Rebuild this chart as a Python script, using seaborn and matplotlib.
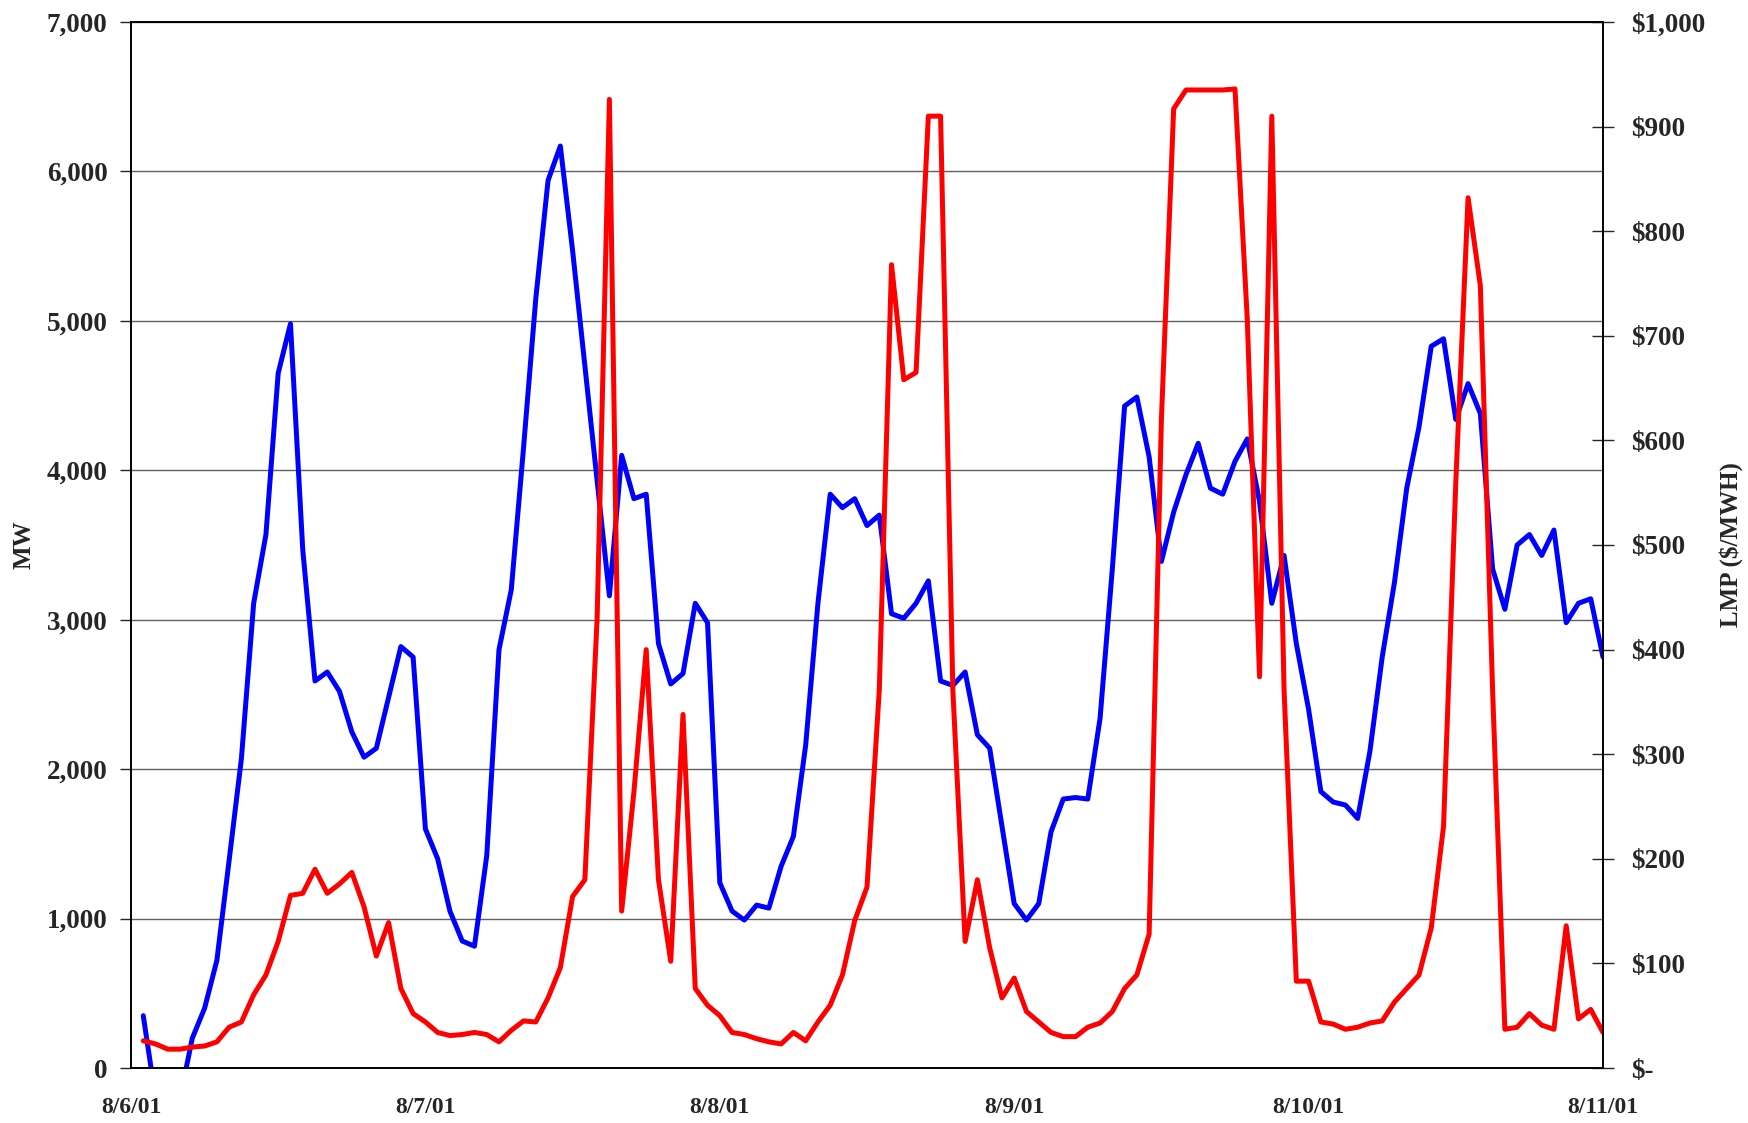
import matplotlib
matplotlib.use('Agg')
import matplotlib.pyplot as plt
import matplotlib.dates as mdates
import matplotlib.ticker as mticker
import numpy as np
import pandas as pd
import seaborn as sns

# hourly load (MW) and price (LMP, $/MWH), 8/6/01 01:00 through 8/11/01 00:00
mw = [
    350, -200, -400, -200, 200, 400, 720, 1390, 2070, 3110, 3570, 4650,
    4980, 3470, 2590, 2650, 2520, 2250, 2080, 2140, 2480, 2820, 2750, 1600,
    1400, 1050, 850, 815, 1420, 2800, 3200, 4150, 5150, 5940, 6170, 5470,
    4700, 3930, 3160, 4100, 3810, 3840, 2840, 2570, 2640, 3110, 2980, 1240,
    1050, 990, 1090, 1070, 1350, 1550, 2160, 3110, 3840, 3750, 3810, 3630,
    3700, 3040, 3010, 3110, 3260, 2590, 2560, 2650, 2230, 2140, 1620, 1100,
    990, 1100, 1580, 1800, 1810, 1800, 2340, 3340, 4430, 4490, 4090, 3390,
    3720, 3970, 4180, 3880, 3840, 4060, 4210, 3790, 3110, 3430, 2840, 2400,
    1850, 1780, 1760, 1670, 2120, 2750, 3250, 3880, 4290, 4830, 4880, 4340,
    4580, 4380, 3340, 3070, 3500, 3570, 3430, 3600, 2980, 3110, 3140, 2750,
]
lmp = [
    26, 23, 18, 18, 20, 21, 25, 39, 44, 70, 89, 121,
    165, 167, 190, 167, 176, 187, 154, 107, 139, 76, 52, 44,
    34, 31, 32, 34, 32, 25, 36, 45, 44, 67, 96, 164,
    180, 430, 926, 150, 264, 400, 180, 102, 338, 76, 60, 50,
    34, 32, 28, 25, 23, 34, 26, 44, 60, 89, 141, 173,
    361, 768, 658, 665, 910, 910, 361, 121, 180, 115, 67, 86,
    54, 44, 34, 30, 30, 39, 43, 54, 76, 89, 128, 620,
    917, 935, 935, 935, 935, 936, 716, 374, 910, 361, 83, 83,
    44, 42, 37, 39, 43, 45, 63, 76, 89, 134, 231, 560,
    832, 748, 361, 37, 39, 52, 41, 37, 136, 47, 56, 34,
]
hours = pd.date_range('2001-08-06 01:00', periods=len(mw), freq='h')
day_ticks = pd.date_range('2001-08-06', '2001-08-11', freq='D')

sns.set_style('white')
plt.rcParams['font.family'] = ['Liberation Serif', 'DejaVu Serif']
plt.rcParams['font.weight'] = 'bold'

fig = plt.figure(figsize=(17.49, 11.23), dpi=100)
ax = fig.add_axes([131 / 1749, 55 / 1123, 1472 / 1749, 1046 / 1123])
ax2 = ax.twinx()

sns.lineplot(x=hours, y=mw, ax=ax, color='#0000ff', lw=3.6)
sns.lineplot(x=hours, y=lmp, ax=ax2, color='#ff0000', lw=3.6)
for a in (ax, ax2):
    for ln in a.get_lines():
        ln.set_solid_joinstyle('round')
        ln.set_solid_capstyle('round')

ax.set_xlim(day_ticks[0], day_ticks[-1])
ax.set_ylim(0, 7000)
ax2.set_ylim(0, 1000)

ax.set_xticks(day_ticks)
ax.xaxis.set_major_formatter(mticker.FuncFormatter(
    lambda v, _: '{d.month}/{d.day}/{y}'.format(d=mdates.num2date(v), y=mdates.num2date(v).strftime('%y'))))
ax.set_yticks(range(0, 7001, 1000))
ax.yaxis.set_major_formatter(mticker.StrMethodFormatter('{x:,.0f}'))
ax2.set_yticks(range(0, 1001, 100))
ax2.yaxis.set_major_formatter(mticker.FuncFormatter(
    lambda v, _: '$-' if v == 0 else '${:,.0f}'.format(v)))

ax.grid(axis='y', color='#606060', lw=1.0)
ax.grid(axis='x', visible=False)
ax2.grid(False)

for a in (ax, ax2):
    for s in a.spines.values():
        s.set_color('black')
        s.set_linewidth(1.2)

ax.tick_params(axis='x', direction='out', length=8, width=1, pad=13, labelsize=17)
ax.tick_params(axis='y', direction='out', length=8, width=1, pad=9, labelsize=19.5,
               left=True)
ax2.tick_params(axis='y', direction='inout', length=16, width=1, pad=12,
                labelsize=19.5, right=True)
for lab in ax.get_xticklabels() + ax.get_yticklabels() + ax2.get_yticklabels():
    lab.set_fontweight('bold')

ax.set_xlabel('')
ax.set_ylabel('MW', fontsize=18, fontweight='bold')
ax.yaxis.set_label_coords(-0.065, 0.5)
ax2.set_ylabel('LMP ($/MWH)', fontsize=18, fontweight='bold', rotation=90)
ax2.yaxis.set_label_coords(1.079, 0.5)

fig.savefig('out.png', dpi=100)
